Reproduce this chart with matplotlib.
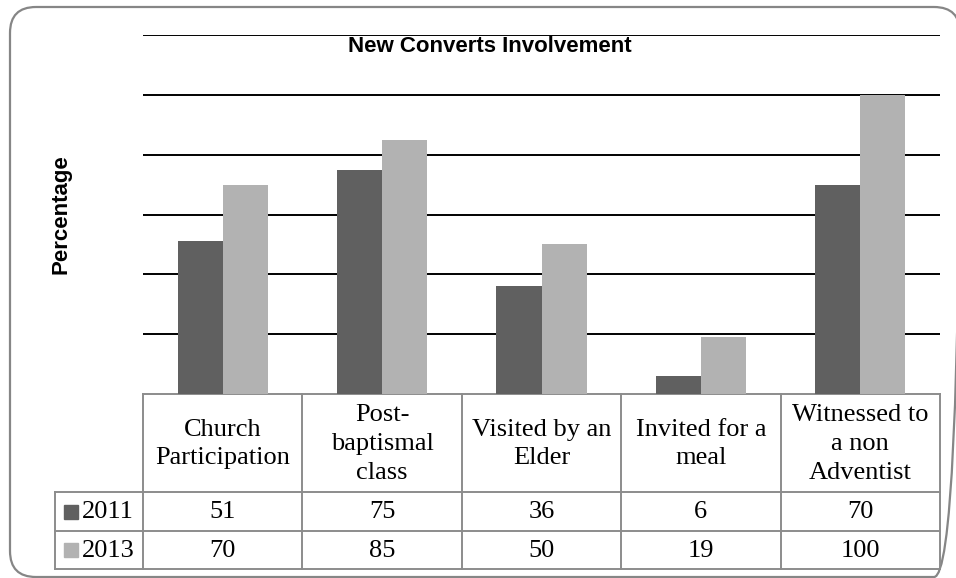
import matplotlib.pyplot as plt
from matplotlib.patches import FancyBboxPatch

categories = ["Church\nParticipation", "Post-\nbaptismal\nclass", "Visited by an\nElder",
              "Invited for a\nmeal", "Witnessed to\na non\nAdventist"]
series = ["2011", "2013"]
values_2011 = [51, 75, 36, 6, 70]
values_2013 = [70, 85, 50, 19, 100]
colors = ["#606060", "#b2b2b2"]

W, H = 956, 578
fig = plt.figure(figsize=(W / 100, H / 100), dpi=100)

# background axes in pixel coords for frame, title, y label
bg = fig.add_axes([0, 0, 1, 1], zorder=0)
bg.set_xlim(0, W)
bg.set_ylim(H, 0)
bg.axis("off")
bg.add_patch(FancyBboxPatch((10, 7), 950, 570, boxstyle="round,pad=0,rounding_size=26",
                            fc="none", ec="#868686", lw=1.6, clip_on=False))
bg.text(490, 52, "New Converts Involvement", ha="center", va="baseline",
        fontsize=16, fontweight="bold", family="Liberation Sans")
bg.text(61, 214, "Percentage", ha="center", va="center", rotation=90,
        fontsize=16, fontweight="bold", family="Liberation Sans")

# plot area
left, right, top, bottom = 143, 940, 35, 394
ax = fig.add_axes([left / W, 1 - bottom / H, (right - left) / W, (bottom - top) / H], zorder=2)
ax.set_xlim(-0.5, 4.5)
ax.set_ylim(0, 120)
for v in range(20, 121, 20):
    ax.axhline(v, color="black", lw=1.4, zorder=1)
w = 0.283
x = list(range(len(categories)))
ax.bar([i - w / 2 for i in x], values_2011, w, color=colors[0], zorder=2)
ax.bar([i + w / 2 for i in x], values_2013, w, color=colors[1], zorder=2)
ax.set_xticks([])
ax.set_yticks([])
for s in ax.spines.values():
    s.set_visible(False)
ax.patch.set_alpha(0)

# data table below the plot
tl, tb = 55, 569
col_w = (right - left) / 5
tab = fig.add_axes([tl / W, 1 - tb / H, (right - tl) / W, (tb - bottom) / H], zorder=1)
tab.set_xlim(-0.5 - (left - tl) / col_w, 4.5)
tab.set_ylim(tb - bottom, 0)
tab.axis("off")
hdr, r1, r2 = 98, 137, 175
lc, lw = "#8c8c8c", 1.4
xl = -0.5 - (left - tl) / col_w
# horizontal lines
tab.plot([-0.5, 4.5], [0, 0], color=lc, lw=lw, clip_on=False)
for yy in (hdr, r1, r2):
    tab.plot([xl, 4.5], [yy, yy], color=lc, lw=lw, clip_on=False)
# vertical lines
for i in range(6):
    tab.plot([i - 0.5, i - 0.5], [0, r2], color=lc, lw=lw, clip_on=False)
tab.plot([xl, xl], [hdr, r2], color=lc, lw=lw, clip_on=False)

serif = "Liberation Serif"
fs = 19
for i, cat in enumerate(categories):
    tab.text(i, hdr / 2 + 1, cat, ha="center", va="center", fontsize=fs,
             family=serif, linespacing=1.4)
rows = [values_2011, values_2013]
row_mid = [(hdr + r1) / 2, (r1 + r2) / 2]
for k, vals in enumerate(rows):
    for i, v in enumerate(vals):
        tab.text(i, row_mid[k] + 1, str(v), ha="center", va="center", fontsize=fs, family=serif)
    tab.plot(xl + 16 / col_w, row_mid[k], marker="s", ms=9.5, color=colors[k], clip_on=False)
    tab.text(xl + 27 / col_w, row_mid[k] + 1, series[k], ha="left", va="center",
             fontsize=fs, family=serif)

fig.savefig("out.png", dpi=100)
